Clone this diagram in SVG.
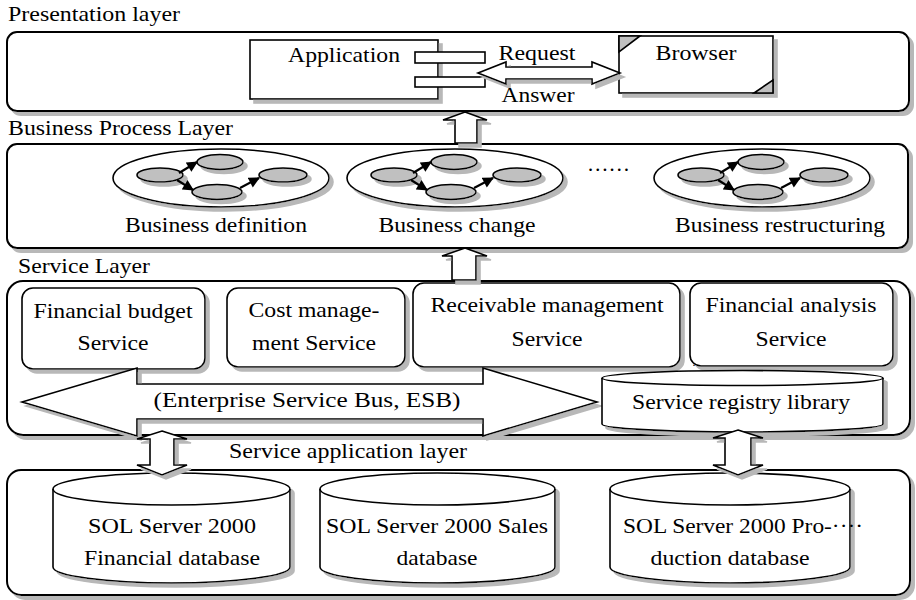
<svg xmlns="http://www.w3.org/2000/svg" xmlns:xlink="http://www.w3.org/1999/xlink" width="916" height="600" viewBox="0 0 916 600" font-family="'Liberation Serif', 'Times New Roman', Times, serif">
<style>
text{font-family:"Liberation Serif","Times New Roman",Times,serif;font-size:21px;fill:#000}
.m{text-anchor:middle}
.box{fill:#fff;stroke:#000;stroke-width:2}
.ln{fill:#fff;stroke:#000;stroke-width:1.6}
.sm{fill:#c0c0c0;stroke:#000;stroke-width:1.6}
.ar{fill:none;stroke:#000;stroke-width:2.2;marker-end:url(#ah)}
</style>
<defs>
<filter id="sh" x="-10%" y="-10%" width="130%" height="140%">
<feFlood flood-color="#b8b8b8"/>
<feComposite in2="SourceAlpha" operator="in"/>
<feOffset dx="4" dy="4" result="s"/>
<feMerge><feMergeNode in="s"/><feMergeNode in="SourceGraphic"/></feMerge>
</filter>
<marker id="ah" viewBox="0 0 10 10" refX="9" refY="5" markerWidth="12" markerHeight="11" markerUnits="userSpaceOnUse" orient="auto"><path d="M0,0 L10,5 L0,10 Z" fill="#000"/></marker>
<g id="proc">
<ellipse cx="0" cy="0" rx="108" ry="29" class="ln" filter="url(#sh)"/>
<g filter="url(#sh)">
<ellipse cx="-61" cy="-3" rx="23" ry="7" class="sm"/>
<ellipse cx="-1" cy="-16" rx="23" ry="7.5" class="sm"/>
<ellipse cx="-4" cy="14" rx="25" ry="7.5" class="sm"/>
<ellipse cx="62" cy="-3" rx="24" ry="7" class="sm"/>
</g>
<path d="M-42,-5 L-24,-16" class="ar"/>
<path d="M-44,2 L-28,12" class="ar"/>
<path d="M19,10 L38,0" class="ar"/>
</g>
</defs>

<g id="presentation-layer">
<text x="8" y="21" textLength="172" lengthAdjust="spacingAndGlyphs">Presentation layer</text>
<rect x="7" y="32" width="902" height="79" rx="10" class="box" filter="url(#sh)"/>
</g>
<g id="application">
<rect x="250" y="40" width="188" height="59" class="ln" filter="url(#sh)"/>
<rect x="415" y="52" width="70" height="11" class="ln"/>
<rect x="415" y="77" width="70" height="10" class="ln"/>
<text x="344" y="62" class="m" textLength="112" lengthAdjust="spacingAndGlyphs">Application</text>
</g>
<g id="browser">
<rect x="619" y="36" width="154" height="57" class="ln" filter="url(#sh)"/>
<path d="M619,36 L640,36 L619,52 Z" class="sm" stroke-width="1.2"/>
<path d="M773,80 L773,93 L754,93 Z" class="sm" stroke-width="1.2"/>
<text x="696" y="60" class="m" textLength="81" lengthAdjust="spacingAndGlyphs">Browser</text>
</g>

<g id="business-process-layer">
<text x="8" y="135" textLength="225" lengthAdjust="spacingAndGlyphs">Business Process Layer</text>
<rect x="7" y="144" width="901" height="104" rx="10" class="box" filter="url(#sh)"/>
<text x="587" y="171" textLength="43" lengthAdjust="spacingAndGlyphs">……</text>
</g>
<g id="business-definition">
<use xlink:href="#proc" x="221" y="178"/>
<text x="216" y="232" class="m" textLength="182" lengthAdjust="spacingAndGlyphs">Business definition</text>
</g>
<g id="business-change">
<use xlink:href="#proc" x="455" y="178"/>
<text x="457" y="232" class="m" textLength="157" lengthAdjust="spacingAndGlyphs">Business change</text>
</g>
<g id="business-restructuring">
<use xlink:href="#proc" x="762" y="178"/>
<text x="780" y="232" class="m" textLength="210" lengthAdjust="spacingAndGlyphs">Business restructuring</text>
</g>

<g id="service-layer">
<text x="18" y="273" textLength="132" lengthAdjust="spacingAndGlyphs">Service Layer</text>
<rect x="7" y="281" width="903" height="154" rx="16" class="box" filter="url(#sh)"/>
<text x="692" y="366" style="font-size:12px">…</text>
</g>
<g id="financial-budget-service">
<rect x="22" y="288" width="183" height="81" rx="11" class="ln" filter="url(#sh)"/>
<text x="113" y="318" class="m" textLength="159" lengthAdjust="spacingAndGlyphs">Financial budget</text>
<text x="113" y="350" class="m" textLength="71" lengthAdjust="spacingAndGlyphs">Service</text>
</g>
<g id="cost-management-service">
<rect x="227" y="288" width="178" height="79" rx="11" class="ln" filter="url(#sh)"/>
<text x="314" y="317" class="m" textLength="131" lengthAdjust="spacingAndGlyphs">Cost manage-</text>
<text x="314" y="350" class="m" textLength="124" lengthAdjust="spacingAndGlyphs">ment Service</text>
</g>
<g id="receivable-management-service">
<rect x="413" y="283" width="267" height="84" rx="11" class="ln" filter="url(#sh)"/>
<text x="547" y="312" class="m" textLength="233" lengthAdjust="spacingAndGlyphs">Receivable management</text>
<text x="547" y="346" class="m" textLength="71" lengthAdjust="spacingAndGlyphs">Service</text>
</g>
<g id="financial-analysis-service">
<rect x="690" y="283" width="203" height="83" rx="11" class="ln" filter="url(#sh)"/>
<text x="791" y="312" class="m" textLength="171" lengthAdjust="spacingAndGlyphs">Financial analysis</text>
<text x="791" y="346" class="m" textLength="71" lengthAdjust="spacingAndGlyphs">Service</text>
</g>
<g id="esb">
<path d="M22,402 L137,368 L137,384 L483,384 L483,368 L597,402 L483,436 L483,419 L137,419 L137,436 Z" class="ln" filter="url(#sh)"/>
<text x="307" y="407" class="m" textLength="307" lengthAdjust="spacingAndGlyphs">(Enterprise Service Bus, ESB)</text>
</g>
<g id="service-registry-library">
<path d="M602,378 A140.5,7.5 0 0 1 883,378 L883,424 A140.5,8 0 0 1 602,424 Z" class="ln" filter="url(#sh)"/>
<path d="M602,378 A140.5,7.5 0 0 0 883,378" fill="none" stroke="#000" stroke-width="1.6"/>
<text x="741" y="409" class="m" textLength="218" lengthAdjust="spacingAndGlyphs">Service registry library</text>
</g>

<g id="service-application-layer">
<text x="348" y="458" class="m" textLength="238" lengthAdjust="spacingAndGlyphs">Service application layer</text>
</g>

<g id="data-layer">
<rect x="7" y="470" width="903" height="125" rx="14" class="box" filter="url(#sh)"/>
</g>
<g id="financial-database">
<path d="M53,489 A118.5,16 0 0 1 290,489 L290,567 A118.5,16 0 0 1 53,567 Z" class="ln" filter="url(#sh)"/>
<path d="M53,489 A118.5,16 0 0 0 290,489" fill="none" stroke="#000" stroke-width="1.6"/>
<text x="172" y="533" class="m" textLength="168" lengthAdjust="spacingAndGlyphs">SOL Server 2000</text>
<text x="172" y="565" class="m" textLength="176" lengthAdjust="spacingAndGlyphs">Financial database</text>
</g>
<g id="sales-database">
<path d="M320,489 A117.5,16 0 0 1 555,489 L555,567 A117.5,16 0 0 1 320,567 Z" class="ln" filter="url(#sh)"/>
<path d="M320,489 A117.5,16 0 0 0 555,489" fill="none" stroke="#000" stroke-width="1.6"/>
<text x="437" y="533" class="m" textLength="222" lengthAdjust="spacingAndGlyphs">SOL Server 2000 Sales</text>
<text x="437" y="565" class="m" textLength="81" lengthAdjust="spacingAndGlyphs">database</text>
</g>
<g id="production-database">
<path d="M610,489 A120,16 0 0 1 850,489 L850,567 A120,16 0 0 1 610,567 Z" class="ln" filter="url(#sh)"/>
<path d="M610,489 A120,16 0 0 0 850,489" fill="none" stroke="#000" stroke-width="1.6"/>
<text x="623" y="533" textLength="240" lengthAdjust="spacingAndGlyphs">SOL Server 2000 Pro-····</text>
<text x="730" y="565" class="m" textLength="159" lengthAdjust="spacingAndGlyphs">duction database</text>
</g>

<g id="connectors">
<path d="M478,73 L506,62 L506,67 L592,67 L592,62 L620,73 L592,84 L592,79 L506,79 L506,84 Z" class="ln" filter="url(#sh)"/>
<text x="537" y="60" class="m" textLength="77" lengthAdjust="spacingAndGlyphs">Request</text>
<text x="538" y="102" class="m" textLength="73" lengthAdjust="spacingAndGlyphs">Answer</text>
<path d="M465,112 L487,120 L477,120 L477,143 L455,143 L455,120 L443,120 Z" class="ln" filter="url(#sh)"/>
<path d="M465,248 L487,256 L476,256 L476,280 L452,280 L452,256 L442,256 Z" class="ln" filter="url(#sh)"/>
<path d="M162,431 L187,439 L174,439 L174,465 L187,465 L162,475 L137,465 L150,465 L150,439 L137,439 Z" class="ln" filter="url(#sh)"/>
<path d="M738,430 L763,438 L751,438 L751,465 L763,465 L738,475 L713,465 L725,465 L725,438 L713,438 Z" class="ln" filter="url(#sh)"/>
</g>
</svg>
